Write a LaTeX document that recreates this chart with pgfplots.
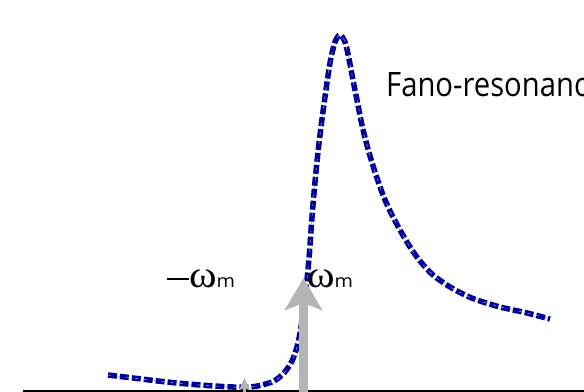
\documentclass[border=0pt]{standalone}
\usepackage{pgfplots}
\pgfplotsset{compat=1.18}
\usepackage{fontspec}
\usetikzlibrary{arrows.meta}
\setmainfont{Open Sans}
\newfontfamily\titlefont[FakeStretch=0.87]{Open Sans}
\newfontfamily\greekfont[FakeStretch=1.1]{Liberation Serif}
\newfontfamily\subfont[FakeStretch=1.1]{Open Sans}
\definecolor{fanoblue}{RGB}{0,0,150}
\definecolor{pumpgray}{RGB}{180,180,180}
\definecolor{baseline}{RGB}{60,60,60}

% measured Fano response (arbitrary units)
\pgfplotstableread{
x   y
108 17
133 14
167 10
200 7
233 5
250 5
262 7
274 11
284 19
292 31
297 45
300 59
304 85
307 112
309.5 140
312 175
315 210
318 240
321 265
325 295
330 329
335 350
340 357
345 350
349 333
353 312
357 292
362 267
368 243
375 220
383 197
391 179
400 162
410 145
420 131
433 117
450 105
465 97
477 92
500 85
527 79
550 73
}\fanodata

\begin{document}
\begin{tikzpicture}
\begin{axis}[
  x=1bp, y=1bp,
  xmin=0, xmax=584, ymin=0, ymax=392,
  axis lines=none,
  clip=false,
  anchor=origin, at={(0,0)},
]
% frequency axis
\addplot[baseline, line width=1.6bp] coordinates {(23,1.2) (584,1.2)};
% Fano lineshape
\addplot[fanoblue, line width=5.5bp, dash pattern=on 9bp off 3bp, smooth] table[x=x,y=y] {\fanodata};
\addplot[white!60!fanoblue, line width=0.6bp, dash pattern=on 3bp off 6bp, smooth] table[x=x,y=y] {\fanodata};
% sidebands
\addplot[pumpgray, line width=3bp, -{Stealth[length=12bp, width=11bp, inset=2bp]}] coordinates {(244.5,0) (244.5,14)};
\addplot[pumpgray, line width=9.5bp, -{Stealth[length=32bp, width=37bp, inset=7bp]}] coordinates {(303.5,0) (303.5,114)};
% labels
\node[anchor=base west, inner sep=0pt] at (axis cs:167,105) {\rule[7.5bp]{22bp}{2bp}\greekfont\fontsize{38bp}{40bp}\selectfont ω\subfont\fontsize{18bp}{20bp}\selectfont m};
\node[anchor=base west, inner sep=0pt] at (axis cs:307,105) {\greekfont\fontsize{38bp}{40bp}\selectfont ω\subfont\fontsize{18bp}{20bp}\selectfont m};
\node[anchor=base west, inner sep=0pt] at (axis cs:386,295.7) {\titlefont\fontsize{33.6bp}{40bp}\selectfont Fano-resonance};
\end{axis}
\pgfresetboundingbox
\useasboundingbox (0,0) rectangle (584bp,392bp);
\end{tikzpicture}
\end{document}
